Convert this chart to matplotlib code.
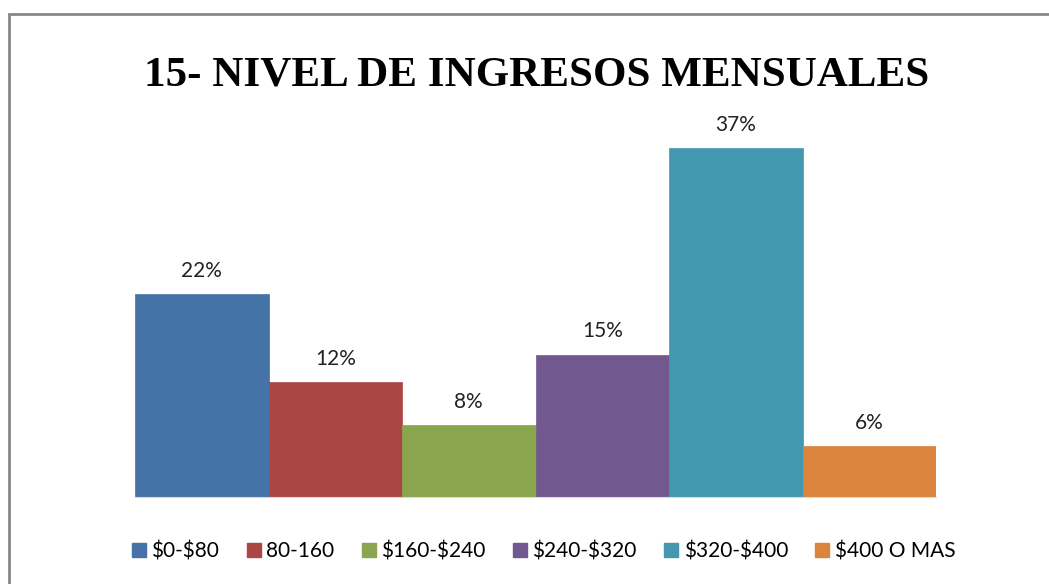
import matplotlib.pyplot as plt
from matplotlib.patches import Rectangle
from matplotlib.lines import Line2D

plt.rcParams['text.parse_math'] = False

categories = ['$0-$80', '80-160', '$160-$240', '$240-$320', '$320-$400', '$400 O MAS']
values = [21.5, 12.2, 7.6, 15.1, 37.0, 5.4]
labels = ['22%', '12%', '8%', '15%', '37%', '6%']
colors = ['#4572A7', '#AA4643', '#89A54E', '#71588F', '#4198AF', '#DB843D']
title = '15- NIVEL DE INGRESOS MENSUALES'

label_font = ['Lato', 'DejaVu Sans']

fig = plt.figure(figsize=(10.49, 5.84), dpi=100)
W, H = 1049, 584

# outer chart border (cropped on the right and bottom)
fig.patches.append(Rectangle((9 / W, -0.05), 1.1, 1 - 14 / H + 0.05,
                             transform=fig.transFigure, fill=False,
                             edgecolor='#888888', linewidth=2))

ax = fig.add_axes([135 / W, 1 - 497 / H, 801 / W, 377 / H])
x = range(len(categories))
bars = ax.bar(x, values, width=1.0, color=colors, edgecolor=colors, linewidth=0.5)
ax.set_xlim(-0.5, len(categories) - 0.5)
ax.set_ylim(0, 40)

for b, lab in zip(bars, labels):
    ax.text(b.get_x() + b.get_width() / 2, b.get_height() + 1.4, lab,
            ha='center', va='bottom', fontsize=15, family=label_font, color='#222222')

for s in ['top', 'right', 'left']:
    ax.spines[s].set_visible(False)
ax.spines['bottom'].set_color('#d9d9d9')
ax.set_xticks([])
ax.set_yticks([])

fig.text(537 / W, 1 - 76 / H, title, ha='center', va='center',
         fontsize=31, fontweight='bold', family='Liberation Serif')

handles = [Line2D([], [], marker='s', linestyle='none', markersize=10,
                  markerfacecolor=c, markeredgecolor=c) for c in colors]
fig.legend(handles, categories, loc='center', bbox_to_anchor=(542 / W, 1 - 551 / H),
           ncol=6, frameon=False, prop={'family': label_font, 'size': 15},
           handletextpad=0.1, columnspacing=1.15, handlelength=1.0)

fig.savefig('out.png', dpi=100)
